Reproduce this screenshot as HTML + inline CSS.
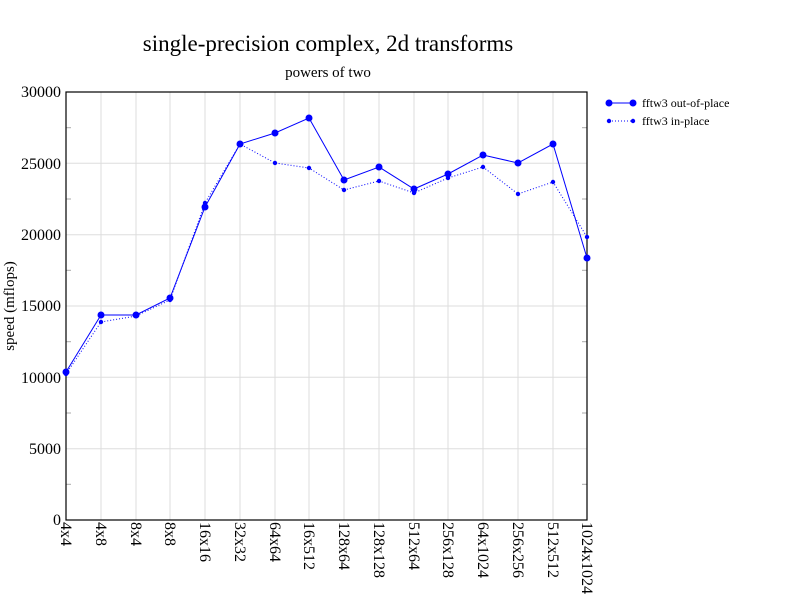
<!DOCTYPE html>
<html><head><meta charset="utf-8"><style>body{margin:0;background:#fff}svg{display:block}</style></head>
<body>
<svg width="792" height="612" xmlns="http://www.w3.org/2000/svg" font-family="Liberation Serif, serif">
<rect width="792" height="612" fill="#fff"/>
<text x="328" y="51" font-size="23" text-anchor="middle">single-precision complex, 2d transforms</text>
<text x="328" y="77" font-size="15" text-anchor="middle">powers of two</text>
<g stroke="#ddd" stroke-width="1">
<line x1="66" y1="163.3" x2="587" y2="163.3"/><line x1="66" y1="234.7" x2="587" y2="234.7"/><line x1="66" y1="306" x2="587" y2="306"/><line x1="66" y1="377.3" x2="587" y2="377.3"/><line x1="66" y1="448.7" x2="587" y2="448.7"/>
<line x1="101" y1="92" x2="101" y2="520"/><line x1="136" y1="92" x2="136" y2="520"/><line x1="170" y1="92" x2="170" y2="520"/><line x1="205" y1="92" x2="205" y2="520"/><line x1="240" y1="92" x2="240" y2="520"/><line x1="275" y1="92" x2="275" y2="520"/><line x1="309" y1="92" x2="309" y2="520"/><line x1="344" y1="92" x2="344" y2="520"/><line x1="379" y1="92" x2="379" y2="520"/><line x1="414" y1="92" x2="414" y2="520"/><line x1="448" y1="92" x2="448" y2="520"/><line x1="483" y1="92" x2="483" y2="520"/><line x1="518" y1="92" x2="518" y2="520"/><line x1="553" y1="92" x2="553" y2="520"/>
</g>
<g stroke="#aaa"><line x1="66" y1="127.7" x2="71" y2="127.7"/><line x1="66" y1="199" x2="71" y2="199"/><line x1="66" y1="270.3" x2="71" y2="270.3"/><line x1="66" y1="341.7" x2="71" y2="341.7"/><line x1="66" y1="413" x2="71" y2="413"/><line x1="66" y1="484.3" x2="71" y2="484.3"/>
<line x1="582" y1="127.7" x2="587" y2="127.7"/><line x1="582" y1="199" x2="587" y2="199"/><line x1="582" y1="270.3" x2="587" y2="270.3"/><line x1="582" y1="341.7" x2="587" y2="341.7"/><line x1="582" y1="413" x2="587" y2="413"/><line x1="582" y1="484.3" x2="587" y2="484.3"/></g>
<rect x="66" y="92" width="521" height="428" fill="none" stroke="#000" stroke-width="1.2"/>
<g font-size="16" text-anchor="end">
<text x="61" y="97">30000</text><text x="61" y="169">25000</text><text x="61" y="240">20000</text><text x="61" y="311">15000</text><text x="61" y="383">10000</text><text x="61" y="454">5000</text><text x="61" y="525">0</text>
</g>
<text transform="translate(14,306) rotate(-90)" font-size="15" text-anchor="middle">speed (mflops)</text>
<g font-size="16">
<text transform="translate(61,522) rotate(90)">4x4</text>
<text transform="translate(96,522) rotate(90)">4x8</text>
<text transform="translate(131,522) rotate(90)">8x4</text>
<text transform="translate(165,522) rotate(90)">8x8</text>
<text transform="translate(200,522) rotate(90)">16x16</text>
<text transform="translate(235,522) rotate(90)">32x32</text>
<text transform="translate(270,522) rotate(90)">64x64</text>
<text transform="translate(304,522) rotate(90)">16x512</text>
<text transform="translate(339,522) rotate(90)">128x64</text>
<text transform="translate(374,522) rotate(90)">128x128</text>
<text transform="translate(409,522) rotate(90)">512x64</text>
<text transform="translate(443,522) rotate(90)">256x128</text>
<text transform="translate(478,522) rotate(90)">64x1024</text>
<text transform="translate(513,522) rotate(90)">256x256</text>
<text transform="translate(548,522) rotate(90)">512x512</text>
<text transform="translate(582,522) rotate(90)">1024x1024</text>
</g>
<polyline fill="none" stroke="#00f" stroke-width="1" points="66,372 101,315 136,315 170,298 205,207 240,144 275,133 309,118 344,180 379,167 414,189 448,174 483,155 518,163 553,144 587,258"/>
<g fill="#00f"><circle cx="66" cy="372" r="3.5"/><circle cx="101" cy="315" r="3.5"/><circle cx="136" cy="315" r="3.5"/><circle cx="170" cy="298" r="3.5"/><circle cx="205" cy="207" r="3.5"/><circle cx="240" cy="144" r="3.5"/><circle cx="275" cy="133" r="3.5"/><circle cx="309" cy="118" r="3.5"/><circle cx="344" cy="180" r="3.5"/><circle cx="379" cy="167" r="3.5"/><circle cx="414" cy="189" r="3.5"/><circle cx="448" cy="174" r="3.5"/><circle cx="483" cy="155" r="3.5"/><circle cx="518" cy="163" r="3.5"/><circle cx="553" cy="144" r="3.5"/><circle cx="587" cy="258" r="3.5"/></g>
<polyline fill="none" stroke="#00f" stroke-width="1" stroke-dasharray="1,2" points="66,374 101,322 136,316 170,300 205,203 240,144 275,163 309,168 344,190 379,181 414,193 448,178 483,167 518,194 553,182 587,237"/>
<g fill="#00f"><circle cx="66" cy="374" r="2.2"/><circle cx="101" cy="322" r="2.2"/><circle cx="136" cy="316" r="2.2"/><circle cx="170" cy="300" r="2.2"/><circle cx="205" cy="203" r="2.2"/><circle cx="240" cy="144" r="2.2"/><circle cx="275" cy="163" r="2.2"/><circle cx="309" cy="168" r="2.2"/><circle cx="344" cy="190" r="2.2"/><circle cx="379" cy="181" r="2.2"/><circle cx="414" cy="193" r="2.2"/><circle cx="448" cy="178" r="2.2"/><circle cx="483" cy="167" r="2.2"/><circle cx="518" cy="194" r="2.2"/><circle cx="553" cy="182" r="2.2"/><circle cx="587" cy="237" r="2.2"/></g>
<line x1="609" y1="103" x2="633" y2="103" stroke="#00f"/><circle cx="609" cy="103" r="3.5" fill="#00f"/><circle cx="633" cy="103" r="3.5" fill="#00f"/>
<text x="642" y="107" font-size="12">fftw3 out-of-place</text>
<line x1="609" y1="121" x2="633" y2="121" stroke="#00f" stroke-dasharray="1,2"/><circle cx="609" cy="121" r="2.2" fill="#00f"/><circle cx="633" cy="121" r="2.2" fill="#00f"/>
<text x="642" y="125" font-size="12">fftw3 in-place</text>
</svg>
</body></html>
